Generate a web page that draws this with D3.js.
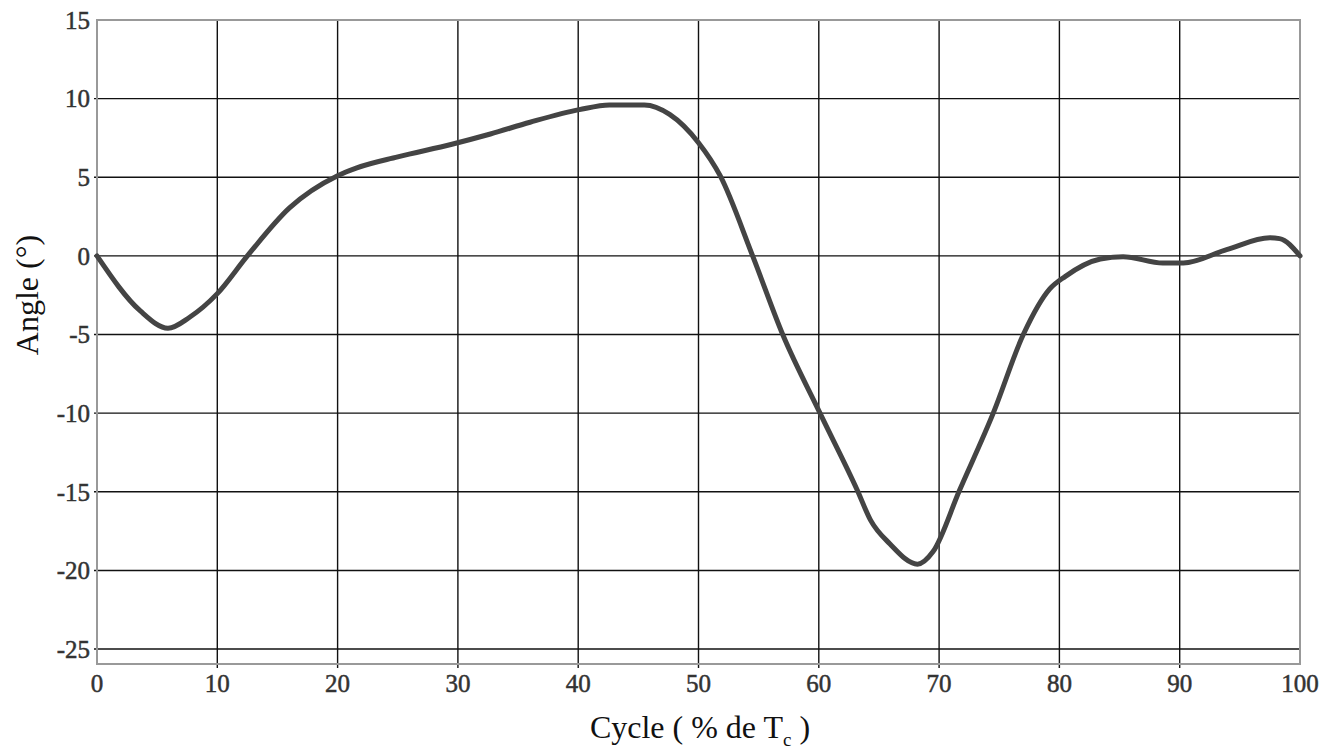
<!DOCTYPE html>
<html>
<head>
<meta charset="utf-8">
<script src="https://cdn.jsdelivr.net/npm/d3@7"></script>
<style>
  html, body { margin: 0; padding: 0; background: #fff; }
  svg { display: block; }
</style>
</head>
<body>
<svg id="chart" width="1334" height="756"></svg>
<script>
// ---- data ----
const cycle = [0, 3.6, 5.9, 7.7, 10, 12.5, 16, 20, 21.6, 25, 29.5, 32.7, 36, 40.1, 42.6, 45.5, 47.6, 50, 51.8, 54.5, 57, 60.1, 63.2, 64.3, 65.9, 68.2, 69.5, 71.7, 74.5, 77, 79.2, 80.5, 83.4, 85.3, 88.6, 90.3, 93.9, 97.5, 98.3, 100];
const angle = [0, -3.5, -4.6, -3.9, -2.4, 0, 3.05, 5.1, 5.6, 6.3, 7.1, 7.75, 8.5, 9.3, 9.6, 9.6, 9.0, 7.2, 5.1, 0, -5, -10, -14.9, -16.8, -18.3, -19.6, -18.8, -14.9, -10, -5, -2.1, -1.3, -0.2, -0.05, -0.45, -0.45, 0.4, 1.15, 1.1, 0];
const xTicks = [0, 10, 20, 30, 40, 50, 60, 70, 80, 90, 100];
const yTicks = [15, 10, 5, 0, -5, -10, -15, -20, -25];
const xLabel = "Cycle ( % de T";
const xLabelSub = "c";
const yLabel = "Angle (°)";

// ---- layout ----
const svg = d3.select("#chart");
const x = d3.scaleLinear().domain([0, 100]).range([97, 1300]);
const y = d3.scaleLinear().domain([-25.95, 15]).range([664, 20]);
const font = "'Liberation Serif', 'Times New Roman', serif";

// grid lines
svg.append("g").selectAll("line").data(xTicks.slice(1, -1)).join("line")
  .attr("x1", d => x(d)).attr("x2", d => x(d))
  .attr("y1", y(15)).attr("y2", y(-25.95) + 4)
  .attr("stroke", "#111").attr("stroke-width", 1.4);
svg.append("g").selectAll("line").data(yTicks.slice(1)).join("line")
  .attr("x1", x(0) - 3).attr("x2", x(100))
  .attr("y1", d => y(d)).attr("y2", d => y(d))
  .attr("stroke", "#111").attr("stroke-width", 1.4);

// frame
svg.append("rect")
  .attr("x", x(0)).attr("y", y(15))
  .attr("width", x(100) - x(0)).attr("height", y(-25.95) - y(15))
  .attr("fill", "none").attr("stroke", "#999").attr("stroke-width", 2);

// tick labels
svg.append("g").selectAll("text").data(yTicks).join("text")
  .attr("x", x(0) - 7).attr("y", d => y(d))
  .attr("dy", "0.35em").attr("text-anchor", "end")
  .attr("font-family", font).attr("font-size", 25)
  .attr("stroke", "#333").attr("stroke-width", 0.5)
  .attr("fill", "#333")
  .text(d => d);
svg.append("g").selectAll("text").data(xTicks).join("text")
  .attr("x", d => x(d)).attr("y", 692)
  .attr("text-anchor", "middle")
  .attr("font-family", font).attr("font-size", 25)
  .attr("stroke", "#333").attr("stroke-width", 0.5)
  .attr("fill", "#333")
  .text(d => d);

// axis titles
const xt = svg.append("text")
  .attr("x", 700).attr("y", 738).attr("text-anchor", "middle")
  .attr("font-family", font).attr("font-size", 32).attr("fill", "#111");
xt.append("tspan").text(xLabel);
xt.append("tspan").attr("font-size", 19).attr("dy", 8).text(xLabelSub);
xt.append("tspan").attr("dy", -8).text(" )");

svg.append("text")
  .attr("transform", `translate(38, 295) rotate(-90)`)
  .attr("text-anchor", "middle")
  .attr("font-family", font).attr("font-size", 32).attr("fill", "#111")
  .text(yLabel);

// curve
const data = cycle.map((c, i) => ({ c, a: angle[i] }));
const line = d3.line().x(d => x(d.c)).y(d => y(d.a)).curve(d3.curveMonotoneX);
svg.append("path").datum(data)
  .attr("d", line)
  .attr("fill", "none").attr("stroke", "#444").attr("stroke-width", 5)
  .attr("stroke-linejoin", "round").attr("stroke-linecap", "round");
</script>
</body>
</html>
